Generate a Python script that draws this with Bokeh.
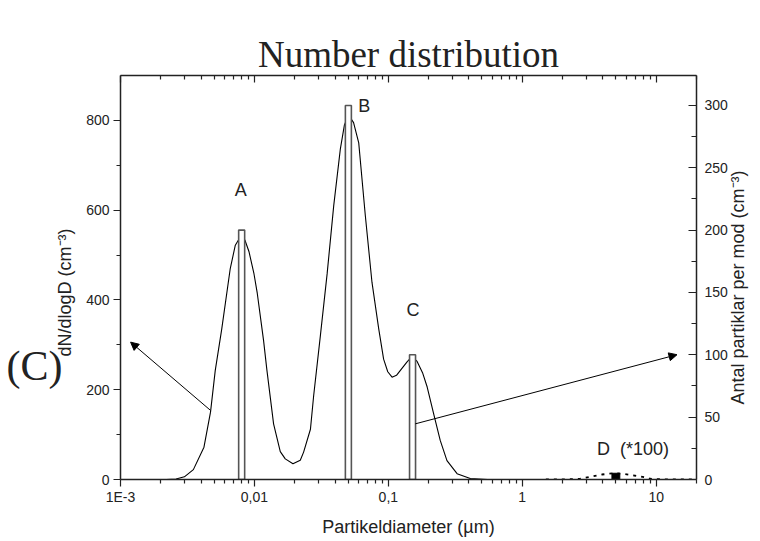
import math
from bokeh.plotting import figure
from bokeh.models import (Range1d, LinearAxis, LogAxis, FixedTicker, Label, Arrow, NormalHead)
from bokeh.embed import file_html
from bokeh.resources import INLINE

# ---- data ----
diameter_um = [0.001, 0.0022, 0.0026, 0.0030, 0.0035, 0.0042, 0.0047, 0.0051, 0.0057, 0.0066,
               0.0072, 0.0079, 0.0085, 0.0091, 0.0099, 0.0105, 0.0117, 0.0124, 0.0139, 0.0156,
               0.0170, 0.0194, 0.0220, 0.0233, 0.0262, 0.0277, 0.0311, 0.0349, 0.0391, 0.0438,
               0.0470, 0.0505, 0.0550, 0.0601, 0.0673, 0.0755, 0.0847, 0.0922, 0.0990, 0.1066,
               0.1150, 0.123, 0.138, 0.150, 0.164, 0.180, 0.195, 0.218, 0.244, 0.274,
               0.326, 0.409, 0.55, 1.0, 20.0]
dn_dlogd = [0, 0, 1, 6, 22, 72, 150, 243, 335, 470,
            522, 542, 533, 508, 460, 415, 310, 243, 124, 62,
            46, 35, 43, 61, 112, 187, 321, 458, 610, 736,
            790, 812, 795, 750, 588, 439, 336, 268, 240, 228,
            232, 243, 262, 274, 263, 238, 206, 146, 87, 42,
            13, 2, 0, 0, 0]

mode_names = ["A", "B", "C"]
mode_diameter = [0.00803, 0.0503, 0.1516]
mode_count = [200, 300, 100]

modeD_diameter = [5.0]
modeD_count = [5]          # (*100)
d_curve_diameter = [1.5, 1.92, 2.71, 3.31, 3.93, 4.81, 5.71, 6.85, 8.28, 9.02, 12.0, 20.0]
d_curve_value = [0, 0, 0.6, 2.4, 4.0, 5.0, 4.6, 3.2, 1.8, 0.6, 0, 0]

x_ticks = [0.001, 0.01, 0.1, 1, 10]
x_tick_labels = ["1E-3", "0,01", "0,1", "1", "10"]
left_ticks = [0, 200, 400, 600, 800]
right_ticks = [0, 50, 100, 150, 200, 250, 300]

# ---- figure ----
p = figure(width=760, height=541, x_axis_type="log",
           x_range=Range1d(0.001, 20), y_range=Range1d(0, 900),
           output_backend="svg", toolbar_location=None,
           min_border_left=120, min_border_right=62, min_border_top=75, min_border_bottom=62)
p.extra_y_ranges = {"right": Range1d(0, 324)}
p.grid.visible = False
p.outline_line_color = None
p.background_fill_color = "white"
p.border_fill_color = "white"

p.title.text = "Number distribution"
p.title.align = "center"
p.title.text_font = "Liberation Serif"
p.title.text_font_size = "37px"
p.title.text_font_style = "normal"
p.title.text_color = "#222222"
p.title.standoff = 2

INK = "#222222"

def style_axis(ax):
    ax.axis_line_color = INK
    ax.axis_line_width = 1.5
    ax.major_tick_line_color = INK
    ax.minor_tick_line_color = INK
    ax.major_tick_line_width = 1.2
    ax.minor_tick_line_width = 1.2
    ax.major_label_text_font = "Liberation Sans"
    ax.major_label_text_font_size = "14px"
    ax.major_label_text_color = INK
    ax.axis_label_text_font = "Liberation Sans"
    ax.axis_label_text_font_size = "18px"
    ax.axis_label_text_font_style = "normal"
    ax.axis_label_text_color = INK

def has_prop(model, name):
    return name in model.properties()

minor_x = [m * 10.0 ** e for e in range(-3, 2) for m in range(2, 10)] + [20.0]

# bottom axis
xb = p.xaxis[0]
style_axis(xb)
xb.ticker = FixedTicker(ticks=x_ticks, minor_ticks=minor_x)
xb.major_label_overrides = {t: s for t, s in zip(x_ticks, x_tick_labels)}
xb.major_tick_out = 7
xb.major_tick_in = 0
xb.minor_tick_out = 4
xb.minor_tick_in = 0
xb.major_label_standoff = 2
xb.axis_label = "Partikeldiameter (µm)"
xb.axis_label_standoff = 9

# left axis
yl = p.yaxis[0]
style_axis(yl)
yl.ticker = FixedTicker(ticks=left_ticks, minor_ticks=[100, 300, 500, 700])
yl.major_tick_out = 7
yl.major_tick_in = 0
yl.minor_tick_out = 4
yl.minor_tick_in = 0
yl.major_label_standoff = 4
yl.axis_label = "dN/dlogD (cm⁻³)" + "\u00a0" * 6
yl.axis_label_standoff = 8

# panel letter "(C)" carried by an invisible outer left axis
ya = LinearAxis(ticker=FixedTicker(ticks=[]))
style_axis(ya)
ya.axis_line_color = None
ya.major_tick_line_color = None
ya.minor_tick_line_color = None
ya.major_tick_in = 0
ya.major_tick_out = 0
ya.minor_tick_in = 0
ya.minor_tick_out = 0
ya.axis_label = "\n\n(C)"
ya.axis_label_text_font = "Liberation Serif"
ya.axis_label_text_font_size = "42px"
ya.axis_label_text_line_height = 1.93
ya.axis_label_standoff = -10
if has_prop(ya, "axis_label_orientation"):
    ya.axis_label_orientation = "horizontal"
p.add_layout(ya, "left")

# top axis (ticks only)
xt = LogAxis()
style_axis(xt)
xt.ticker = FixedTicker(ticks=x_ticks, minor_ticks=minor_x)
xt.major_tick_out = 0
xt.major_tick_in = 7
xt.minor_tick_out = 0
xt.minor_tick_in = 4
xt.major_label_text_color = None
xt.major_label_text_font_size = "2px"
xt.major_label_standoff = 0
p.add_layout(xt, "above")

# right axis
yr = LinearAxis(y_range_name="right")
style_axis(yr)
yr.ticker = FixedTicker(ticks=right_ticks, minor_ticks=[25, 75, 125, 175, 225, 275])
yr.major_tick_out = 0
yr.major_tick_in = 8
yr.minor_tick_out = 0
yr.minor_tick_in = 5
yr.major_label_standoff = 8
right_title = "Antal partiklar per mod (cm⁻³)"
yr.axis_label_standoff = 7
if has_prop(yr, "axis_label_orientation") and has_prop(yr, "axis_label_align"):
    yr.axis_label_orientation = math.pi / 2
    yr.axis_label_align = "start"
    yr.axis_label = "\u00a0" * 15 + right_title
else:
    yr.axis_label = right_title
p.add_layout(yr, "right")

# ---- glyphs ----
p.line(diameter_um, dn_dlogd, line_color="black", line_width=1.1)

half = 1.053
p.quad(left=[d / half for d in mode_diameter], right=[d * half for d in mode_diameter],
       bottom=[0] * len(mode_count), top=mode_count, y_range_name="right",
       fill_color="white", line_color="#555555", line_width=1.6)

p.line(d_curve_diameter, d_curve_value, y_range_name="right",
       line_color="black", line_width=1.8, line_dash="3 5")
p.quad(left=[d / 1.07 for d in modeD_diameter], right=[d * 1.07 for d in modeD_diameter],
       bottom=[0] * len(modeD_count), top=modeD_count, y_range_name="right",
       fill_color="black", line_color="black")

# arrows (data coordinates, left axis)
arrow_left = dict(x_start=0.0047, y_start=154, x_end=0.00119, y_end=306)
arrow_right = dict(x_start=0.159, y_start=124, x_end=14.3, y_end=278)
for a in (arrow_left, arrow_right):
    p.add_layout(Arrow(end=NormalHead(size=8, fill_color="black", line_color="black"),
                       line_color="black", line_width=1, **a))

# mode labels
label_font = dict(text_font="Liberation Sans", text_font_size="18px", text_color=INK)
mode_label_pos = {"A": (0.0079, 646), "B": (0.066, 833), "C": (0.1527, 377)}
for name in mode_names:
    x, y = mode_label_pos[name]
    p.add_layout(Label(x=x, y=y, text=name, text_align="center", text_baseline="middle", **label_font))
p.add_layout(Label(x=3.61, y=69, text="D\u00a0\u00a0(*100)", text_align="left",
                   text_baseline="middle", **label_font))

open("out.html", "w").write(file_html(p, INLINE))
